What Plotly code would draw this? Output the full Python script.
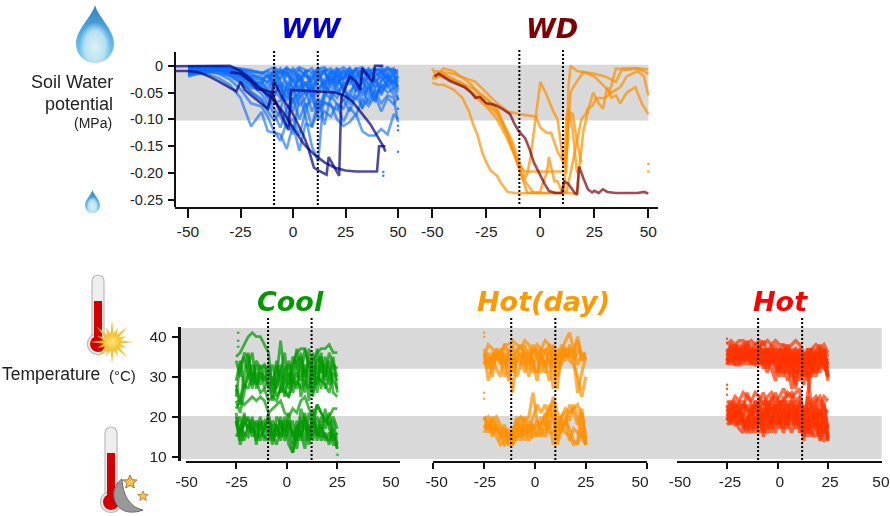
import base64
import plotly.graph_objects as go

W, H = 890, 516
N = None

# ---------- soil water potential, WW (thousandths of MPa below zero) ----------
WW_DAYS = [-56,-50,-45,-40,-35,-30,-25,-20,-15,-12,-9,-6,-3,0,3,6,9,12,15,18,21,24,27,30,33,36,39,42,45,48,50]
WW_LIGHT = [
 [N,14,13,16,24,36,60,113,86,122,125,128,155,110,158,108,112,65,68,72,100,112,105,90,122,130,130,118,128,90,100],
 [N,10,8,10,16,26,44,70,76,95,122,140,105,60,52,95,150,178,40,8,30,22,15,28,12,20,10,25,15,30,38],
 [N,6,5,6,10,16,28,48,62,80,55,30,88,128,60,45,85,60,110,55,72,80,55,62,40,70,45,50,35,55,60],
 [N,20,15,12,14,20,32,50,65,85,102,85,30,40,75,60,35,90,60,30,18,45,60,25,80,30,55,40,25,45,58],
 [N,4,3,3,5,10,18,32,40,60,15,40,60,20,50,30,55,20,40,48,60,30,72,45,20,35,65,30,20,35,30],
 [N,16,11,9,8,12,20,28,34,15,30,8,35,55,15,40,12,45,25,15,35,20,10,30,50,15,25,55,30,18,25],
 [N,2,2,3,4,7,12,22,30,42,25,50,12,30,45,10,48,15,8,35,12,48,25,8,28,45,18,12,40,25,40],
 [N,12,9,7,6,8,15,20,25,18,40,20,8,45,25,52,20,8,50,20,40,8,35,18,5,25,38,8,22,12,15],
 [N,8,6,5,4,6,10,18,20,35,5,30,45,10,30,8,35,30,5,42,10,28,5,38,15,5,30,20,5,18,30],
 [N,18,14,11,9,11,17,30,45,55,45,60,40,70,35,75,65,80,70,75,82,62,85,55,78,60,48,70,55,60,105],
 [N,5,4,4,4,5,8,12,15,10,18,5,20,5,25,12,5,25,10,5,22,8,18,5,15,10,5,12,8,5,22],
 [N,3,3,2,2,4,6,10,12,22,8,15,3,18,6,20,25,4,15,28,6,15,4,22,8,18,12,3,15,8,12],
 [N,11,10,8,7,9,14,24,38,48,55,35,65,45,15,55,38,55,30,22,50,35,25,45,30,22,42,28,18,38,50],
 [N,7,5,4,3,5,9,15,25,30,12,25,10,30,8,18,30,10,35,12,5,25,15,10,30,8,20,12,25,15,45],
 [N,1,1,1,2,3,5,8,14,8,3,12,5,10,3,8,12,6,3,15,10,3,12,6,3,14,6,10,3,10,8],
 [N,15,12,10,12,18,30,42,40,60,80,95,115,98,130,85,50,100,85,95,70,105,78,92,62,75,55,85,60,72,58],
 [N,9,7,6,8,14,24,36,52,72,90,115,80,60,100,70,115,80,50,62,40,65,48,35,55,42,68,36,50,42,35],
 [N,13,10,8,9,13,22,38,30,48,70,65,45,85,50,30,62,42,30,55,25,40,20,48,30,55,22,45,28,30,20],
]
WW_DARK_A_X = [-56,-40,-30,-25,-20,-15,-10,-5,0,5,10,15,20,25,30,35,40,41,44]
WW_DARK_A_Y = [1,0,0,10,25,45,60,85,115,145,165,180,190,195,197,197,197,150,150]
WW_DARK_B_X = [-56,-50,-45,-40,-35,-30,-27,-25,-23,-20,-15,-12,-10,-9,-5,0,5,7,10,12,16,17,22,23,27,30,32,33,37,38,39,43]
WW_DARK_B_Y = [10,10,12,20,30,42,48,30,45,55,70,80,50,30,60,90,130,150,190,195,203,170,205,60,20,30,45,5,25,30,0,0]
WW_DARK_C_X = [-30,-25,-20,-17,-14,-10,-8,-2,-1,10,20,24,28,32,37,40,43,44]
WW_DARK_C_Y = [12,15,30,44,45,50,70,120,45,47,50,55,65,85,110,130,150,160]
WW_SPECK_X = [50,50,50,50,50,43,43]
WW_SPECK_Y = [62,80,112,120,160,198,205]

# ---------- soil water potential, WD ----------
WD_SERIES = [
 ([-50,-47,-45,-40,-36,-33,-31,-29,-27,-25,-23,-20,-18,-15,-10,-5,0,1,3,4,6.5,8,10,15,17,18,20,23,24.5,27,29,31,33,35,37,40,44,47,50],
  [32,36,35,45,60,85,110,130,160,180,195,205,220,235,238,237,235,220,200,170,215,215,235,238,238,190,120,70,50,70,80,40,60,55,70,50,40,70,90]),
 ([-50,-48,-45,-40,-37,-33,-30,-25,-20,-15,-10,-5,-2,0,3,5,8,11,12.5,13,15,17,19],
  [5,22,5,10,20,25,30,50,70,85,90,93,95,115,125,125,160,182,150,85,90,140,180]),
 ([-50,-47,-42,-37,-32,-28,-24,-20,-16,-12,-10,-7,0,5,12,12.5,13,14,17,25,30,35,38,45,50],
  [20,20,25,30,50,65,80,100,130,165,185,197,197,197,197,140,40,0,10,15,20,30,5,5,15]),
 ([-49,-45,-40,-36,-32,-28,-24,-20,-16,-13,-10,-7,-6,-4.5,0,3,6,8,10,11,12,13,15,17],
  [10,12,15,22,35,55,65,85,115,140,175,210,200,170,30,55,85,100,160,190,100,80,120,200]),
 ([-48,-45,-40,-35,-30,-25,-20,-15,-10,-6,11,11.5,12,14,16,20,25,30,32,35,40,45,50],
  [12,15,30,35,45,60,80,130,190,237,237,210,170,50,35,12,20,40,50,5,8,5,7]),
 ([-50,-45,-40,-35,-30,-25,-20,-15,-8,-3,0,5,10,12,14,17,19,21,22,24,26,30,33,37,40,45,48,50],
  [25,15,25,40,55,70,90,130,210,237,237,237,237,237,200,140,100,90,80,75,60,60,50,40,20,10,20,55]),
]
WD_DARK_X = [-49,-47,-45,-42,-38,-35,-32,-30,-28,-25,-22,-20,-17,-14,-12,-10,-7,-5,-3,0,2,4,7,10,11,13,15,16,17,18,20,22,24,25,27,29,31,35,45,48,50]
WD_DARK_Y = [20,15,20,28,35,40,50,60,58,70,72,75,82,90,108,122,135,155,180,205,220,233,237,237,215,220,232,237,240,188,210,230,236,233,237,230,235,237,237,235,238]
WD_SPECK_X = [50,50]
WD_SPECK_Y = [183,197]

# ---------- air temperature (deg C) ----------
TEMP_DAYS = [-25,-23,-21,-19,-17,-15,-13,-11,-9,-7,-5,-3,-1,1,3,5,7,9,11,13,15,17,19,21,23,25]
COOL = [
 [35,36,38,40,41,40,40,38,36,26,30,39,30,27,33,36,37,37,33,34,36,37,37,38,36,36],
 [34,30,36,35,29,34,32,33,31,25,33,30,25,31,28,34,35,26,37,30,34,35,30,36,33,32],
 [29,34,27,30,33,27,31,30,28,24,28,33,27,25,31,37,30,37,32,25,37,31,33,28,33,30],
 [27,23,31,36,28,31,28,33,27,30,25,27,32,33,26,29,27,32,24,36,28,36,29,34,26,25],
 [28,24,28,27,31,29,26,27,24,25,24,27,26,25,28,31,29,33,29,26,30,29,28,26,31,29],
 [25,33,35,31,27,33,30,29,33,28,34,26,29,34,30,27,36,30,34,28,33,27,35,31,29,27],
 [24,21,26,33,36,28,33,27,30,33,27,31,36,28,35,33,25,29,27,33,26,34,27,30,35,26],
 [22,24,23,24,25,24,25,24,21,22,23,24,21,20,22,21,24,25,22,20,23,21,19,20,22,22],
 [19,14,19,17,19,18,15,17,20,16,13,17,19,16,11,15,19,14,21,17,23,21,19,18,20,17],
 [18,20,14,18,16,19,17,15,14,19,17,15,18,13,11,18,14,20,13,19,16,15,22,17,15,12],
 [21,16,18,20,15,17,20,14,17,13,20,18,14,17,19,12,20,17,15,22,14,18,15,14,19,13],
 [19,13,16,15,18,14,18,19,16,18,15,19,16,19,15,17,16,12,18,14,20,17,14,16,13,13],
 [15,17,20,19,17,16,14,18,19,15,18,14,20,18,16,14,22,19,14,16,18,14,16,13,17,12],
 [20,15,21,16,20,13,19,16,21,14,16,20,15,21,13,19,15,21,16,19,15,20,17,21,14,16],
]
HOT_DAY = [
 [35,38,37,35,36,38,38,39,38,37,39,38,36,38,37,39,38,37,35,36,39,41,37,39,34,35],
 [36,29,33,36,33,38,36,31,34,36,33,36,34,29,37,36,38,33,27,37,35,37,36,40,35,36],
 [34,32,36,34,37,33,35,38,30,33,38,33,37,35,31,34,29,38,34,33,37,34,33,30,25,30],
 [33,36,30,37,34,35,29,34,37,35,31,37,33,31,37,31,36,27,37,35,34,38,35,26,31,35],
 [37,34,35,32,30,36,33,26,36,38,35,30,38,36,33,37,33,36,32,38,36,35,37,33,36,35],
 [35,33,34,37,35,30,37,33,35,33,36,34,31,37,35,33,37,35,30,34,37,36,34,37,35,34],
 [20,18,17,15,13,14,16,13,19,20,19,20,26,19,18,20,22,24,17,20,22,21,22,23,20,14],
 [19,20,18,17,16,13,14,16,20,14,18,16,20,23,21,23,20,25,21,19,18,23,21,18,22,15],
 [18,17,19,20,18,16,13,13,15,18,14,19,17,19,17,16,23,19,14,20,21,19,23,20,16,13],
 [17,19,16,18,15,17,15,15,17,16,20,15,18,15,20,18,16,16,20,18,16,15,13,14,21,13],
 [20,16,20,16,17,15,17,14,19,15,16,18,15,16,15,21,17,22,13,17,19,17,14,13,17,14],
 [16,18,15,19,14,18,14,17,14,20,17,14,16,18,16,15,19,13,18,16,20,14,17,16,15,13],
]
HOT = [
 [38,39,38,39,39,38,39,38,39,38,39,38,39,38,38,37,38,39,38,36,35,37,38,37,38,36],
 [36,38,37,35,38,37,36,38,37,39,36,37,35,37,36,38,36,37,35,32,37,36,33,37,36,33],
 [34,36,35,37,34,35,38,35,36,35,37,34,36,31,35,33,37,34,36,30,34,33,37,34,33,31],
 [35,33,36,34,36,33,35,36,33,36,34,32,29,35,33,36,30,35,33,28,36,30,35,36,34,30],
 [33,35,34,36,35,36,34,33,35,33,35,36,33,30,36,31,34,28,37,31,33,35,31,33,36,29],
 [37,34,33,33,37,34,37,34,38,34,31,35,37,34,30,35,27,33,34,34,30,37,34,31,35,32],
 [35,37,34,38,33,36,33,37,34,37,33,36,34,36,33,29,35,36,31,33,36,32,36,35,32,31],
 [36,35,38,36,36,39,35,36,33,35,37,33,35,33,37,34,33,27,35,36,31,34,33,36,37,30],
 [34,37,36,34,38,34,37,33,38,34,36,33,38,32,34,37,32,37,33,30,35,37,30,34,35,33],
 [36,34,38,37,35,38,33,37,35,37,32,37,31,36,38,33,36,31,37,33,29,33,36,38,33,30],
 [33,38,33,35,37,35,37,34,37,32,36,38,35,33,31,37,34,36,29,34,37,31,32,33,37,35],
 [34,36,37,33,35,37,36,34,36,33,36,35,33,37,35,36,35,34,36,35,30,22,17,15,14,15],
 [24,23,25,24,26,25,24,26,25,23,25,26,24,25,27,25,26,24,25,21,23,24,25,23,25,24],
 [22,24,21,23,22,26,23,21,24,26,22,24,26,23,24,26,25,26,27,19,21,23,24,25,22,21],
 [20,22,23,20,24,22,21,24,22,20,24,21,23,21,25,22,24,21,23,17,25,19,22,20,23,17],
 [21,19,20,22,19,18,22,19,18,24,20,18,22,24,20,18,22,19,24,20,17,21,17,23,18,15],
 [19,21,19,17,16,20,18,16,20,17,16,22,18,20,17,23,18,23,20,16,20,15,19,16,21,14],
 [23,20,18,19,21,17,16,20,16,19,22,16,20,17,22,19,16,20,17,22,15,18,21,14,17,15],
 [20,18,22,21,18,16,19,22,24,15,19,20,16,22,18,20,21,17,21,18,22,16,15,19,15,16],
 [18,19,21,18,20,23,21,18,21,21,17,19,22,19,16,21,19,22,18,15,18,20,23,17,24,15],
 [21,23,19,24,17,19,23,17,23,18,24,17,24,18,23,17,25,18,24,14,22,17,24,15,20,14],
 [19,22,24,18,23,21,17,24,18,22,20,25,21,24,19,24,20,24,16,23,16,23,18,22,16,18],
 [22,20,23,21,19,17,20,23,19,16,21,23,19,21,24,20,23,20,19,16,26,32,35,36,35,34],
]
COOL_SPECK_X = [-24,-24,-24,-24,25]
COOL_SPECK_Y = [41,39,37.5,24,10.5]
HOTDAY_SPECK_X = [-25,-25,-25,-25,25]
HOTDAY_SPECK_Y = [41,40,26,24.5,14]
HOT_SPECK_X = [-25,-25,-25,-25,-25]
HOT_SPECK_Y = [39.5,38.5,28,27,25.5]

# ---------- text ----------
X_TICKS = [-50, -25, 0, 25, 50]
X_LABELS = ["-50", "-25", "0", "25", "50"]
PSI_TICKS = [0, -0.05, -0.10, -0.15, -0.20, -0.25]
PSI_LABELS = ["0", "-0.05", "-0.10", "-0.15", "-0.20", "-0.25"]
TEMP_TICKS = [10, 20, 30, 40]

SANS = "Liberation Sans, Arial, sans-serif"
TITLE_FONT = "DejaVu Sans, sans-serif"
GREY = "#D9D9D9"

fig = go.Figure()


def pxx(px):
    return px / W


def pxy(py):
    return 1 - py / H


def rng(left, right, zero, scale):
    return [(left - zero) / scale, (right - zero) / scale]


def line_axis(**kw):
    d = dict(showgrid=False, zeroline=False, showline=True, linecolor="#111", linewidth=2,
             ticks="outside", tickcolor="#111", tickwidth=2, ticklen=6,
             tickfont=dict(family=SANS, size=15.5, color="#222"), tickangle=0, layer="above traces")
    d.update(kw)
    return d


# axes ------------------------------------------------------------
psi_dom = [pxy(207), pxy(52)]
temp_dom = [pxy(460.7), pxy(327)]
psi_range = [-(207 - 65.7) / 537.2 , (65.7 - 52) / 537.2]
temp_range = [10 - (460.7 - 456.7) / 4, 40 + (336.7 - 327) / 4]

layout_axes = {
    "xaxis": line_axis(domain=[pxx(175), pxx(420)], range=rng(175, 420, 293, 2.1), tickvals=X_TICKS,
                       ticktext=X_LABELS, anchor="y", ticklen=9),
    "yaxis": line_axis(domain=psi_dom, range=psi_range, tickvals=PSI_TICKS, ticktext=PSI_LABELS,
                       anchor="free", position=pxx(175), ticklabelstandoff=2,
                       tickfont=dict(family=SANS, size=14.5, color="#222")),
    "xaxis2": line_axis(domain=[pxx(420), pxx(658)], range=rng(420, 658, 540.3, 2.16), tickvals=X_TICKS,
                        ticktext=X_LABELS, anchor="y", ticklen=9),
    "yaxis3": line_axis(domain=temp_dom, range=temp_range, tickvals=TEMP_TICKS, anchor="free",
                        position=pxx(178.5), linewidth=2.5, ticklabelstandoff=2),
}
PANELS = [
    # x id, label axis id, left, right, zero px, px per day, tick positions, label positions
    ("x3", "x6", 185.7, 400, 286.7, 2.024, [-50, -25, 0, 25, 56.0], [-49.4, -24.7, 0, 25, 51.5]),
    ("x4", "x7", 433, 647, 535, 2.032, [-50, -25, 0, 25, 55.1], [-48.4, -24.6, 0, 25, 51.7]),
    ("x5", "x8", 677, 881.7, 777.5, 2.02, [-50, -25, 0, 25, 51.6], [-48.3, -23.5, 1.2, 26, 51.2]),
]
for xid, lid, left, right, zero, scale, ticks_at, labels_at in PANELS:
    r = rng(left, right, zero, scale)
    layout_axes["xaxis" + xid[1:]] = line_axis(domain=[pxx(left), pxx(right)], range=r, tickvals=ticks_at,
                                               ticktext=[""] * 5, anchor="y3")
    layout_axes["xaxis" + lid[1:]] = line_axis(domain=[pxx(left), pxx(right)], range=r, tickvals=labels_at,
                                               ticktext=X_LABELS, anchor="y3", overlaying=xid,
                                               ticklen=7, tickcolor="rgba(0,0,0,0)", showline=False)


# traces ------------------------------------------------------------
def series(x, y, color, xa, ya, width=2.6, opacity=0.7):
    fig.add_trace(go.Scatter(x=x, y=y, mode="lines", xaxis=xa, yaxis=ya, opacity=opacity,
                             line=dict(color=color, width=width), hoverinfo="skip", showlegend=False))


def specks(x, y, color, xa, ya, size=2.5):
    fig.add_trace(go.Scatter(x=x, y=y, mode="markers", xaxis=xa, yaxis=ya, opacity=0.8,
                             marker=dict(color=color, size=size), hoverinfo="skip", showlegend=False))


def mpa(vals):
    return [None if v is None else -v / 1000 for v in vals]


for s in WW_LIGHT:
    series(WW_DAYS, mpa(s), "#0A6CFF", "x", "y", opacity=0.62)
specks(WW_SPECK_X, mpa(WW_SPECK_Y), "#0066FF", "x", "y")
for xs, ys in [(WW_DARK_A_X, WW_DARK_A_Y), (WW_DARK_B_X, WW_DARK_B_Y), (WW_DARK_C_X, WW_DARK_C_Y)]:
    series(xs, mpa(ys), "#00007F", "x", "y")
for xs, ys in WD_SERIES:
    series(xs, mpa(ys), "#FF9000", "x2", "y")
series(WD_DARK_X, mpa(WD_DARK_Y), "#800010", "x2", "y")
specks(WD_SPECK_X, mpa(WD_SPECK_Y), "#FF9000", "x2", "y")

for s in COOL:
    series(TEMP_DAYS, s, "#009900", "x3", "y3", width=2.8)
specks(COOL_SPECK_X, COOL_SPECK_Y, "#009900", "x3", "y3")
for s in HOT_DAY:
    series(TEMP_DAYS, s, "#FF9000", "x4", "y3", width=3.2)
specks(HOTDAY_SPECK_X, HOTDAY_SPECK_Y, "#FF9000", "x4", "y3")
for s in HOT:
    series(TEMP_DAYS, s, "#FF3300", "x5", "y3", width=3.4)
specks(HOT_SPECK_X, HOT_SPECK_Y, "#FF3300", "x5", "y3")
# give the overlaid label axes a subplot to live on
for xid, lid, *_ in PANELS:
    fig.add_trace(go.Scatter(x=[None], y=[None], xaxis=lid, yaxis="y3", showlegend=False, hoverinfo="skip"))

# bands and drought / heat windows ------------------------------------
shapes = [
    dict(type="rect", xref="paper", yref="y", x0=pxx(175), x1=pxx(648.5), y0=0.002, y1=-0.102,
         fillcolor=GREY, line_width=0, layer="below"),
    dict(type="rect", xref="paper", yref="y3", x0=pxx(179), x1=pxx(881.7), y0=42.2, y1=32,
         fillcolor=GREY, line_width=0, layer="below"),
    dict(type="rect", xref="paper", yref="y3", x0=pxx(179), x1=pxx(881.7), y0=20.2, y1=9.4,
         fillcolor=GREY, line_width=0, layer="below"),
]
WINDOWS = [("x", -9, 11.8, 50, 205), ("x2", -9.7, 10.5, 50, 204),
           ("x3", -9.2, 12.3, 317, 460), ("x4", -11.7, 10, 317, 460), ("x5", -9.6, 12.2, 317, 460)]
for xa, a, b, top, bottom in WINDOWS:
    for v in (a, b):
        shapes.append(dict(type="line", xref=xa, yref="paper", x0=v, x1=v, y0=pxy(bottom), y1=pxy(top),
                           line=dict(color="#000", width=2, dash="2px,2px"), layer="above"))

# titles and labels ---------------------------------------------------
ann = []
for text, x, y, color in [("WW", 311, 29, "#0000CC"), ("WD", 552, 29, "#7F0000"), ("Cool", 290, 301, "#009900"),
                          ("Hot(day)", 543, 301, "#FF9900"), ("Hot", 780, 301, "#FF0000")]:
    ann.append(dict(text=f"<b><i>{text}</i></b>", x=pxx(x), y=pxy(y), xref="paper", yref="paper", showarrow=False,
                    xanchor="center", yanchor="middle", font=dict(family=TITLE_FONT, size=27, color=color)))
for text, x, y, size, anchor in [("Soil Water", 115, 82, 18, "right"), ("potential", 115, 104, 18, "right"),
                                 ("(MPa)", 114, 123, 14, "right"), ("Temperature", 0, 374, 17.5, "left"),
                                 ("(°C)", 138, 375, 15, "right")]:
    ann.append(dict(text=text, x=pxx(x), y=pxy(y), xref="paper", yref="paper", showarrow=False, xanchor=anchor,
                    yanchor="middle", xshift=0, font=dict(family=SANS, size=size, color="#222")))


# icons ---------------------------------------------------------------
def uri(svg):
    return "data:image/svg+xml;base64," + base64.b64encode(svg.encode()).decode()


DROP = """<svg xmlns="http://www.w3.org/2000/svg" viewBox="0 0 38 58" width="38" height="58">
<defs><linearGradient id="a" x1="0" y1="0" x2="0" y2="1"><stop offset="0" stop-color="#2F82BE"/><stop offset=".5" stop-color="#55AEE2"/><stop offset="1" stop-color="#7CCBEE"/></linearGradient>
<radialGradient id="b" cx=".5" cy=".72" r=".42"><stop offset="0" stop-color="#DDF1F6"/><stop offset=".65" stop-color="#BFE5F3" stop-opacity=".9"/><stop offset="1" stop-color="#BFE5F3" stop-opacity="0"/></radialGradient></defs>
<path d="M19 0C22 12 38 24 38 39A19 19 0 0 1 0 39C0 24 16 12 19 0Z" fill="url(#a)"/>
<path d="M19 0C22 12 38 24 38 39A19 19 0 0 1 0 39C0 24 16 12 19 0Z" fill="url(#b)"/></svg>"""


def thermo(tx, fill_top, bulb_y):
    return f"""<rect x="{tx-6}" y="1" width="12" height="{bulb_y}" rx="6" fill="#EEEEEE" stroke="#BBBBBB" stroke-width="1.2"/>
<circle cx="{tx}" cy="{bulb_y}" r="10.5" fill="#EEEEEE" stroke="#BBBBBB" stroke-width="1.2"/>
<rect x="{tx-4}" y="{fill_top}" width="8" height="{bulb_y-fill_top}" fill="#D40000"/>
<circle cx="{tx}" cy="{bulb_y}" r="8" fill="#D40000"/>"""


rays = "".join(
    f'<path d="M-1.8 -7 L0 -{22 if i % 2 == 0 else 16} L1.8 -7Z" fill="#F9C23C" transform="translate(27 68) rotate({i * 22.5})"/>'
    for i in range(16))
SUN = f"""<svg xmlns="http://www.w3.org/2000/svg" viewBox="0 0 50 90" width="50" height="90">
<defs><radialGradient id="s"><stop offset="0" stop-color="#FFE680"/><stop offset="1" stop-color="#F7BE26"/></radialGradient></defs>
{thermo(13, 27, 70)}{rays}<circle cx="27" cy="68" r="9" fill="url(#s)"/></svg>"""

STAR = '<path d="M0 -7L2 -2.2 7 -2 3.2 1.2 4.4 6 0 3.3 -4.4 6 -3.2 1.2 -7 -2 -2 -2.2Z" fill="#F2C14E" stroke="#A8782A" stroke-width="1" transform="translate({x} {y}) scale({k})"/>'
MOON = f"""<svg xmlns="http://www.w3.org/2000/svg" viewBox="0 0 52 90" width="52" height="90">
{thermo(13, 27, 76)}
<path d="M24 53C13 60 12 79 27 85C33 87 40 86 45 84C34 82 25 72 24 53Z" fill="#999999" stroke="#666" stroke-width="1"/>
{STAR.format(x=32, y=56, k=1.0)}{STAR.format(x=45, y=70, k=0.75)}</svg>"""

images = [
    dict(source=uri(DROP), x=pxx(76), y=pxy(5), sizex=38 / W, sizey=58 / H),
    dict(source=uri(DROP), x=pxx(85), y=pxy(190), sizex=15 / W, sizey=23 / H),
    dict(source=uri(SUN), x=pxx(85), y=pxy(274), sizex=50 / W, sizey=90 / H),
    dict(source=uri(MOON), x=pxx(98), y=pxy(426), sizex=52 / W, sizey=90 / H),
]
for im in images:
    im.update(xref="paper", yref="paper", xanchor="left", yanchor="top", sizing="stretch", layer="above")

fig.update_layout(width=W, height=H, margin=dict(l=0, r=0, t=0, b=0, pad=0, autoexpand=False), autosize=False,
                  paper_bgcolor="white", plot_bgcolor="rgba(0,0,0,0)", showlegend=False,
                  shapes=shapes, annotations=ann, images=images, **layout_axes)

fig.write_html("out.html", config={"displayModeBar": False},
               post_script="document.body.style.margin='0';document.body.style.overflow='hidden';")
